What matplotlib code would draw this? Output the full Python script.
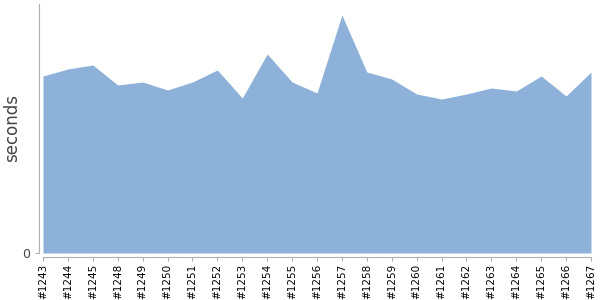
import matplotlib
matplotlib.use("Agg")
import matplotlib.pyplot as plt
import numpy as np

# build numbers (#1246, #1247 missing)
builds = ["#1243", "#1244", "#1245", "#1248", "#1249", "#1250", "#1251",
          "#1252", "#1253", "#1254", "#1255", "#1256", "#1257", "#1258",
          "#1259", "#1260", "#1261", "#1262", "#1263", "#1264", "#1265",
          "#1266", "#1267"]
# build duration in seconds
durations = [177, 184, 188, 168, 171, 163, 171, 183, 155, 199, 171, 160,
             238, 181, 174, 159, 154, 159, 165, 162, 177, 157, 181]

FILL = "#8eb1da"
SPINE = "#b0b0b0"

fig = plt.figure(figsize=(6, 3), dpi=100)
ax = fig.add_axes([43 / 600, 1 - 253 / 300, 548 / 600, 249 / 300])

# spine offsets first: moving a spine resets the ticks
for side in ("top", "right"):
    ax.spines[side].set_visible(False)
for side in ("left", "bottom"):
    ax.spines[side].set_color(SPINE)
    ax.spines[side].set_position(("outward", 3))

x = np.arange(len(builds))
ax.fill_between(x, 0, durations, color=FILL, linewidth=0)

ax.set_xlim(0, len(builds) - 1)
ax.set_ylim(0, 249)

ax.set_xticks(x)
ax.set_xticklabels(builds, rotation=90, fontsize=7.5, color="black")
ax.set_yticks([0])
ax.set_yticklabels(["0"], fontsize=9, color="#444444")
ax.set_ylabel("seconds", fontsize=12, color="#444444")
ax.yaxis.set_label_coords(-22 / 548, 0.5)

ax.tick_params(axis="x", length=3, color=SPINE, pad=2)
ax.tick_params(axis="y", length=3, color=SPINE, pad=3)

fig.savefig("out.png", dpi=100)
